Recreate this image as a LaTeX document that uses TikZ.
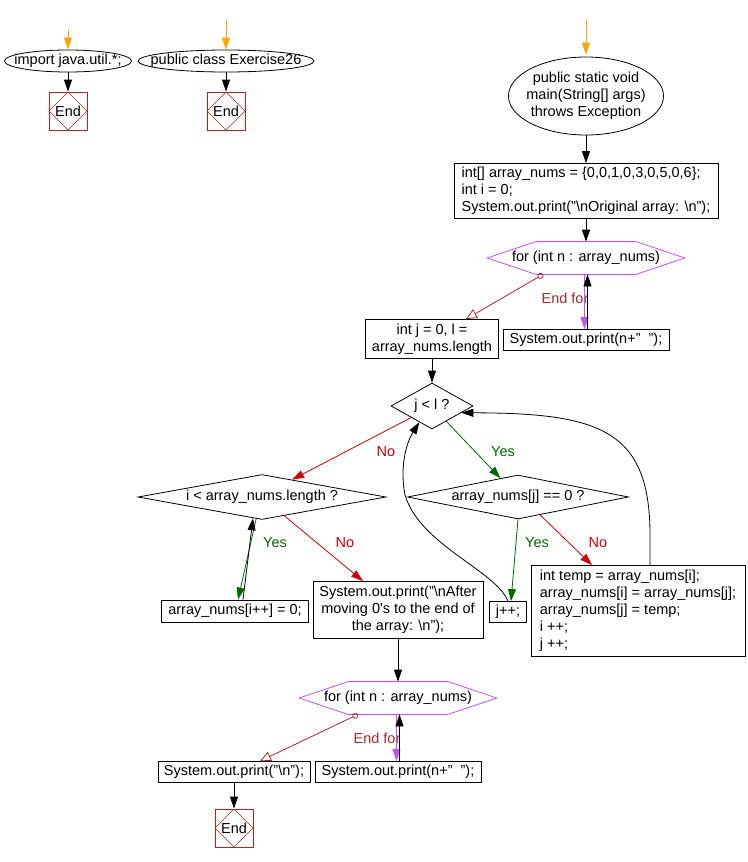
\documentclass[tikz,border=0pt]{standalone}
\usepackage{fontspec}
\setmainfont{Liberation Sans}
\usepackage{xcolor}
\usepackage{tikz}
\usetikzlibrary{shapes.geometric,arrows.meta}
\definecolor{startorange}{RGB}{255,165,0}
\definecolor{endbrown}{RGB}{165,42,42}
\definecolor{nored}{RGB}{204,0,0}
\definecolor{yesgreen}{RGB}{0,102,0}
\definecolor{forpurple}{RGB}{195,80,255}
\tikzstyle{arrow} = [-{Triangle[length=12pt,width=8pt]}]
\tikzstyle{startarrow} = [startorange, -{Triangle[length=12pt,width=8pt]}]
\tikzstyle{noarrow} = [nored, -{Triangle[length=12pt,width=8pt]}]
\tikzstyle{yesarrow} = [yesgreen, -{Triangle[length=12pt,width=8pt]}]
\tikzstyle{forarrow} = [forpurple, -{Triangle[length=12pt,width=8pt]}]
\tikzstyle{exitarrow} = [endbrown, {Circle[open,length=6pt,width=6pt]}-{Triangle[open,length=11pt,width=10pt]}]
\tikzstyle{box} = [draw, rectangle, inner xsep=3pt, inner ysep=2pt]
\tikzstyle{ell} = [draw, ellipse, inner xsep=-20pt, inner ysep=-3pt, align=center]
\tikzstyle{cond} = [draw, diamond, inner sep=0pt]
\tikzstyle{forlbl} = [rectangle, minimum width=197pt, minimum height=32pt, inner sep=0pt]
\tikzstyle{endbox} = [draw=endbrown, rectangle, minimum size=38pt, inner sep=0pt,
	path picture={\draw[endbrown, line width=0.5pt] (path picture bounding box.north) -- (path picture bounding box.east) -- (path picture bounding box.south) -- (path picture bounding box.west) -- cycle;}]
\tikzstyle{nolbl} = [text=nored]
\tikzstyle{yeslbl} = [text=yesgreen]
\tikzstyle{endforlbl} = [text=endbrown]
\newcommand{\forhex}[1]{\draw[forpurple] (#1.west) -- ([xshift=49pt]#1.north west) -- ([xshift=-49pt]#1.north east) -- (#1.east) -- ([xshift=-49pt]#1.south east) -- ([xshift=49pt]#1.south west) -- cycle;}

\begin{document}
\begin{tikzpicture}[x=1pt, y=-1pt, line width=0.8pt, every node/.style={font=\fontsize{14.5}{17}\selectfont}]
		\useasboundingbox (0,0) rectangle (747,862);

		\coordinate (s1) at (68,30);
		\node (imp) [ell, minimum width=127pt, minimum height=22pt] at (68,61) {import java.util.*;};
		\node (end1) [endbox] at (68,111) {End};
		\draw [startarrow] (s1) -- (imp);
		\draw [arrow] (imp) -- (end1);

		\coordinate (s2) at (226,20);
		\node (cls) [ell, minimum width=176pt, minimum height=22pt] at (226,61) {public class Exercise26};
		\node (end2) [endbox] at (226,111) {End};
		\draw [startarrow] (s2) -- (cls);
		\draw [arrow] (cls) -- (end2);

		\coordinate (s3) at (586,20);
		\node (main) [ell, minimum width=155pt, minimum height=78pt] at (586,96) {public static void\\main(String[] args)\\throws Exception};
		\node (init) [box, align=left, minimum width=264pt, minimum height=55pt] at (586,191) {int[] array\_nums = \{0,0,1,0,3,0,5,0,6\};\\int i = 0;\\System.out.print("\textbackslash nOriginal array: \textbackslash n");};
		\node (for1) [forlbl] at (586,258) {for (int n : array\_nums)};
		\forhex{for1}
		\node (pr1) [box, minimum width=166pt, minimum height=21pt] at (586,340) {System.out.print(n+"\ \ ");};
		\node (endfor1) [endforlbl] at (565,298) {End for};
		\node (init2) [box, align=center, minimum width=133pt, minimum height=39pt] at (432,339) {int j = 0, l =\\array\_nums.length};

		\draw [startarrow] (s3) -- ([yshift=2pt]main.north);
		\draw [arrow] (main) -- (init);
		\draw [arrow] (init) -- (for1);
		\draw [forarrow] ([xshift=-1.5pt]for1.south) -- ([xshift=-1.5pt]pr1.north);
		\draw [arrow] ([xshift=1.5pt]pr1.north) -- ([xshift=1.5pt]for1.south);
		\draw [exitarrow] ([xshift=-43pt]for1.south) -- ([xshift=34pt]init2.north);

		\node (jl) [cond, minimum width=82pt, minimum height=46pt] at (432,406) {\makebox[0pt]{j < l ?}};
		\node (il) [cond, minimum width=248pt, minimum height=45pt] at (262,497) {\makebox[0pt]{i < array\_nums.length ?}};
		\node (az) [cond, minimum width=221pt, minimum height=44pt] at (518,497) {\makebox[0pt]{array\_nums[j] == 0 ?}};
		\node (no1) [nolbl] at (386,452) {No};
		\node (yes1) [yeslbl] at (503,452) {Yes};

		\draw [arrow] (init2) -- (jl);
		\draw [noarrow] (jl.-151) -- (il.30);
		\draw [yesarrow] (jl.-47) -- (az.133);

		\node (aip) [box, minimum width=147pt, minimum height=22pt] at (235,611) {array\_nums[i++] = 0;};
		\node (after) [box, align=center, minimum width=170pt, minimum height=57pt] at (398,610) {System.out.print("\textbackslash nAfter\\moving 0\textquotesingle s to the end of\\the array: \textbackslash n");};
		\node (jpp) [box, minimum width=37pt, minimum height=21pt] at (508,612) {j++;};
		\node (temp) [box, align=left, minimum width=214pt, minimum height=91pt] at (638,611) {int temp = array\_nums[i];\\array\_nums[i] = array\_nums[j];\\array\_nums[j] = temp;\\i ++;\\j ++;};
		\node (yes2) [yeslbl] at (275,543) {Yes};
		\node (no2) [nolbl] at (345,543) {No};
		\node (yes3) [yeslbl] at (537,543) {Yes};
		\node (no3) [nolbl] at (598,543) {No};

		\draw [yesarrow] (il.-105) -- ([xshift=3pt]aip.north);
		\draw [arrow] ([xshift=8pt]aip.north) -- (il.-113);
		\draw [noarrow] (il.-40) -- ([xshift=-35pt]after.north);
		\draw [yesarrow] (az.south) -- ([xshift=3pt]jpp.north);
		\draw [noarrow] (az.-39) -- ([xshift=-46pt]temp.north);
		\draw [arrow] (jpp.north) .. controls (495,570) and (420,545) .. (405,495) .. controls (400,470) and (405,445) .. (jl.-128);
		\draw [arrow] ([xshift=12pt]temp.north) -- (650,535) .. controls (650,430) and (600,413) .. (jl.-13);

		\node (for2) [forlbl] at (398,698) {for (int n : array\_nums)};
		\forhex{for2}
		\node (endfor2) [endforlbl] at (377,738) {End for};
		\node (prn) [box, minimum width=152pt, minimum height=21pt] at (234,772) {System.out.print("\textbackslash n");};
		\node (pr2) [box, minimum width=166pt, minimum height=21pt] at (398,772) {System.out.print(n+"\ \ ");};
		\node (end3) [endbox] at (234,828) {End};

		\draw [arrow] (after) -- (for2);
		\draw [forarrow] ([xshift=-1.5pt]for2.south) -- ([xshift=-1.5pt]pr2.north);
		\draw [arrow] ([xshift=1.5pt]pr2.north) -- ([xshift=1.5pt]for2.south);
		\draw [exitarrow] ([xshift=-40pt]for2.south) -- ([xshift=26pt]prn.north);
		\draw [arrow] (prn) -- (end3);
	\end{tikzpicture}
\end{document}
